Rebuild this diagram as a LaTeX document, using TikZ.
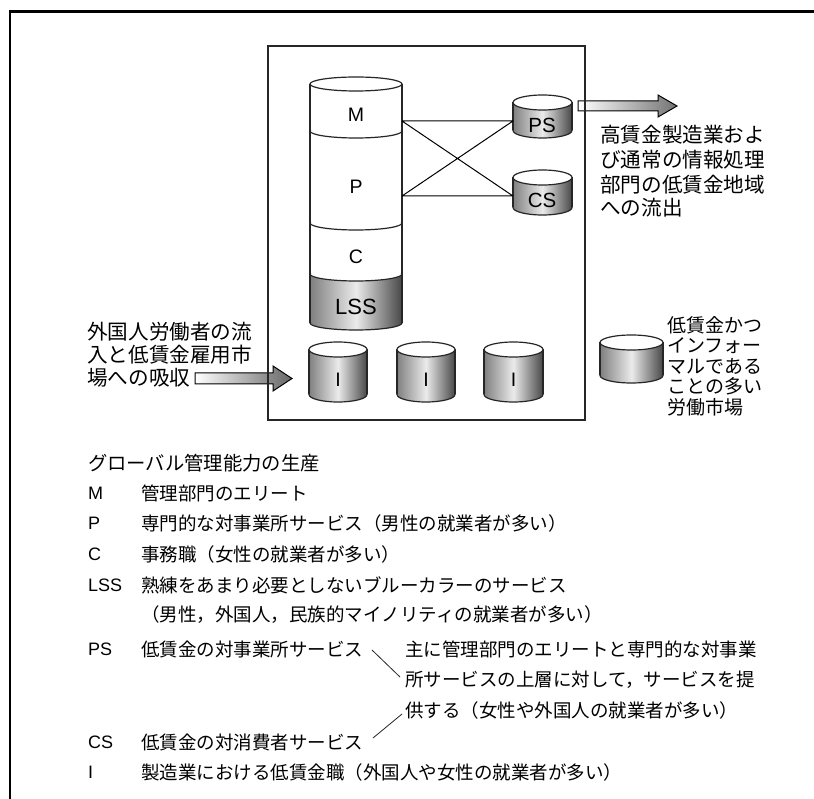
\documentclass[tikz,border=0pt]{standalone}
\usepackage{fontspec}
\setmainfont{Liberation Sans}
\newfontfamily\jp{Noto Sans CJK JP}
\newcommand\cylfill[6]{%
  \path[#6] (#1,#3) rectangle (#2,#4);
  \path[#6] ({(#1+#2)/2},#4) ellipse [x radius={(#2-#1)/2}, y radius=#5];}
\newcommand\cylarc[4]{%
  \begin{scope}
    \clip (#1-3,#3) rectangle (#2+3,#3+#4+3);
    \draw[cylline] ({(#1+#2)/2},#3) ellipse [x radius={(#2-#1)/2}, y radius=#4];
  \end{scope}}
\newcommand\cyltop[4]{\draw[cylline,fill=white] ({(#1+#2)/2},#3) ellipse [x radius={(#2-#1)/2}, y radius=#4];}
\newcommand\cylsides[4]{\draw[cylline] (#1,#3) -- (#1,#4) (#2,#3) -- (#2,#4);}
\newcommand\mycyl[6]{\cylfill{#1}{#2}{#3}{#4}{#5}{#6}\cylarc{#1}{#2}{#4}{#5}\cylsides{#1}{#2}{#3}{#4}\cyltop{#1}{#2}{#3}{#5}}
\begin{document}
\begin{tikzpicture}[x=1pt,y=-1pt,
  cylline/.style={line width=1.2pt,draw=black!85},
  shadecyl/.style={left color=black!50,right color=black!72,middle color=black!8},
  whitecyl/.style={fill=white},
  cyllbl/.style={inner sep=0pt,anchor=center,font=\fontsize{19.5}{19.5}\selectfont},
  biglbl/.style={inner sep=0pt,anchor=center,font=\fontsize{20.5}{20.5}\selectfont},
  sidetxt/.style={inner sep=0pt,anchor=west,font=\jp\fontsize{20.6}{24}\selectfont},
  smalltxt/.style={inner sep=0pt,anchor=west,font=\jp\fontsize{19}{20}\selectfont},
  legtxt/.style={inner sep=0pt,anchor=west,font=\jp\fontsize{18.5}{20}\selectfont},
  leglbl/.style={inner sep=0pt,anchor=west,font=\fontsize{18}{18}\selectfont},
  headtxt/.style={inner sep=0pt,anchor=west,font=\jp\fontsize{19.3}{20}\selectfont},
  brace/.style={line width=0.8pt,draw=black!85}]
\useasboundingbox (0,0) rectangle (814,799);
\fill[white] (0,0) rectangle (814,799);
% outer frame (top and left)
\draw[line width=2.5pt] (10,799) -- (10,11.5) -- (814,11.5);
% block arrows
\shadedraw[left color=white,right color=black!60,line width=1pt]
  (195,373) -- (273,373) -- (273,366) -- (292,378.5) -- (273,391) -- (273,384) -- (195,384) -- cycle;
\shadedraw[left color=white,right color=black!55,line width=1pt]
  (578,101) -- (658,101) -- (658,95) -- (677,106) -- (658,117) -- (658,111) -- (578,111) -- cycle;
% inner box
\draw[line width=1.2pt,draw=black!85] (268,46) rectangle (585,420);
% big stacked cylinder
\cylfill{310}{402}{84}{323}{7}{whitecyl}
\cylfill{310}{402}{274}{323}{7}{shadecyl}
\fill[white] (356,274) ellipse [x radius=46, y radius=7];
\cylarc{310}{402}{131}{7}
\cylarc{310}{402}{223}{7}
\cylarc{310}{402}{274}{7}
\cylarc{310}{402}{323}{7}
\cylsides{310}{402}{84}{323}
\cyltop{310}{402}{84}{7}
\node[cyllbl] (M) at (356,115) {M};
\node[cyllbl] (P) at (356,187) {P};
\node[cyllbl] (C) at (356,257) {C};
\node[inner sep=0pt,font=\fontsize{22}{22}\selectfont] (LSS) at (356,307) {LSS};
% PS, CS
\mycyl{513}{572}{102.5}{130.5}{7.5}{shadecyl}
\mycyl{513}{572}{177.5}{207.5}{7.5}{shadecyl}
\node[biglbl] (PS) at (542,125.5) {PS};
\node[biglbl] (CS) at (542,200) {CS};
% I cylinders
\mycyl{309}{367}{349.5}{394.5}{7.5}{shadecyl}
\mycyl{397}{455}{349.5}{394.5}{7.5}{shadecyl}
\mycyl{484}{543}{349.5}{394.5}{7.5}{shadecyl}
\node[cyllbl] (I1) at (338,380) {I};
\node[cyllbl] (I2) at (426,380) {I};
\node[cyllbl] (I3) at (513.5,380) {I};
% lower-right cylinder
\mycyl{600}{663}{342.5}{375.5}{7.5}{shadecyl}
% connectors
\coordinate (Mr) at (402,121);
\coordinate (Pr) at (402,196);
\coordinate (PSl) at (513,121);
\coordinate (CSl) at (513,196);
\draw[line width=1pt] (Mr) -- (PSl) (Pr) -- (CSl) (Mr) -- (CSl) (Pr) -- (PSl);
% side texts
\node[sidetxt] (r1) at (600,135) {高賃金製造業およ};
\node[sidetxt] (r2) at (600,160) {び通常の情報処理};
\node[sidetxt] (r3) at (600,185) {部門の低賃金地域};
\node[sidetxt] (r4) at (600,208) {への流出};
\node[sidetxt] (l1) at (87,332) {外国人労働者の流};
\node[sidetxt] (l2) at (87,355) {入と低賃金雇用市};
\node[sidetxt] (l3) at (87,378) {場への吸収};
\node[smalltxt] (s1) at (667,325) {低賃金かつ};
\node[smalltxt] (s2) at (667,345.5) {インフォー};
\node[smalltxt] (s3) at (667,366) {マルである};
\node[smalltxt] (s4) at (667,386.5) {ことの多い};
\node[smalltxt] (s5) at (667,407) {労働市場};
% legend
\node[headtxt] (head) at (88,463) {グローバル管理能力の生産};
\node[leglbl] (kM) at (88,493) {M};
\node[legtxt] (tM) at (141,493) {管理部門のエリート};
\node[leglbl] (kP) at (88,523) {P};
\node[legtxt] (tP) at (141,523) {専門的な対事業所サービス（男性の就業者が多い）};
\node[leglbl] (kC) at (88,554) {C};
\node[legtxt] (tC) at (141,554) {事務職（女性の就業者が多い）};
\node[leglbl] (kLSS) at (88,585) {LSS};
\node[legtxt] (tLSS) at (141,585) {熟練をあまり必要としないブルーカラーのサービス};
\node[legtxt] (tLSS2) at (141,615) {（男性，外国人，民族的マイノリティの就業者が多い）};
\node[leglbl] (kPS) at (88,649) {PS};
\node[legtxt] (tPS) at (141,649) {低賃金の対事業所サービス};
\node[legtxt] (n1) at (405,649) {主に管理部門のエリートと専門的な対事業};
\node[legtxt] (n2) at (405,680) {所サービスの上層に対して，サービスを提};
\node[legtxt] (n3) at (405,710) {供する（女性や外国人の就業者が多い）};
\node[leglbl] (kCS) at (88,742) {CS};
\node[legtxt] (tCS) at (141,742) {低賃金の対消費者サービス};
\node[leglbl] (kI) at (88,772) {I};
\node[legtxt] (tI) at (141,772) {製造業における低賃金職（外国人や女性の就業者が多い）};
\coordinate (bA) at (372,650);
\coordinate (bB) at (400,677);
\coordinate (bC) at (402,714);
\coordinate (bD) at (373,738);
\draw[brace] (bA) -- (bB);
\draw[brace] (bC) -- (bD);
\end{tikzpicture}
\end{document}
